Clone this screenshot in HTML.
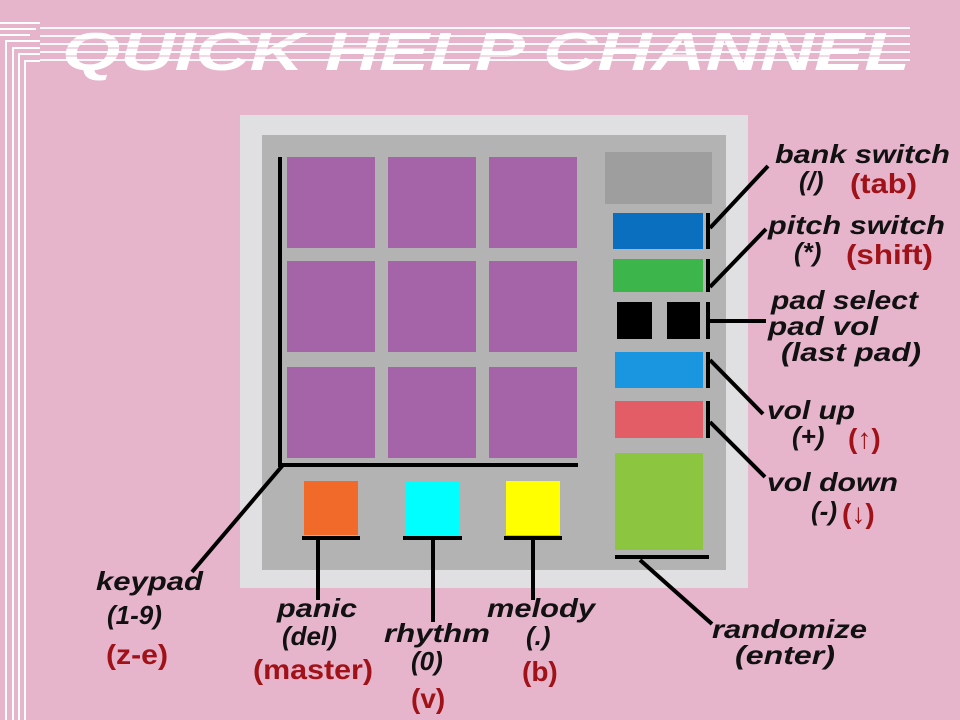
<!DOCTYPE html>
<html><head><meta charset="utf-8"><style>
html,body{margin:0;padding:0;background:#e6b4cb;}
svg{display:block}
.t{font-family:"Liberation Sans",sans-serif;font-weight:bold;font-style:italic;font-size:26px;fill:#111;}
.r{font-family:"Liberation Sans",sans-serif;font-weight:bold;font-size:28px;fill:#a01218;}
</style></head><body>
<svg width="960" height="720" viewBox="0 0 960 720" xmlns="http://www.w3.org/2000/svg">
<rect width="960" height="720" fill="#e6b4cb"/>
<g stroke="#fff" stroke-width="2" fill="none">
<path d="M0 23 H40 M0 29 H36 M0 35 H30"/>
<path d="M6 720 V41 H40 M13 720 V48 H40 M19 720 V54 H40 M25 720 V61 H40"/>
</g>
<g stroke="#fff" stroke-width="2" opacity="0.9">
<path d="M40 28 H910 M40 36 H910 M40 44 H910 M40 52 H910 M40 60 H910"/>
</g>
<text x="62" y="70" font-family="Liberation Sans,sans-serif" font-weight="bold" font-style="italic" font-size="54" fill="#fff" textLength="848" lengthAdjust="spacingAndGlyphs">QUICK HELP CHANNEL</text>
<g stroke="#e6b4cb" stroke-width="2" opacity="0.5">
<path d="M60 32 H910 M60 40 H910 M60 48 H910 M60 56 H910"/>
</g>
<rect x="240" y="115" width="508" height="473" fill="#e0e0e2"/>
<rect x="262" y="135" width="464" height="435" fill="#b3b3b3"/>
<g fill="#a564a8">
<rect x="287" y="157" width="88" height="91"/><rect x="388" y="157" width="88" height="91"/><rect x="489" y="157" width="88" height="91"/>
<rect x="287" y="261" width="88" height="91"/><rect x="388" y="261" width="88" height="91"/><rect x="489" y="261" width="88" height="91"/>
<rect x="287" y="367" width="88" height="91"/><rect x="388" y="367" width="88" height="91"/><rect x="489" y="367" width="88" height="91"/>
</g>
<rect x="304" y="481" width="54" height="54" fill="#f26a2a"/>
<rect x="405" y="481" width="55" height="54" fill="#00ffff"/>
<rect x="506" y="481" width="54" height="54" fill="#ffff00"/>
<rect x="605" y="152" width="107" height="52" fill="#9e9e9e"/>
<rect x="613" y="213" width="90" height="36" fill="#0a6fbf"/>
<rect x="613" y="259" width="90" height="33" fill="#3cb54a"/>
<rect x="617" y="302" width="35" height="37" fill="#000"/>
<rect x="667" y="302" width="33" height="37" fill="#000"/>
<rect x="615" y="352" width="88" height="36" fill="#1a96e0"/>
<rect x="615" y="401" width="88" height="37" fill="#e35d66"/>
<rect x="615" y="453" width="88" height="97" fill="#8cc540"/>
<g stroke="#000" stroke-width="4" fill="none">
<path d="M280 157 V465 H578"/>
<path d="M302 538 H360 M318 538 V600"/>
<path d="M403 538 H462 M433 538 V622"/>
<path d="M504 538 H562 M533 538 V600"/>
<path d="M615 557 H709"/>
<path d="M708 213 V249 M708 259 V292 M708 302 V339 M708 352 V388 M708 401 V438"/>
<path d="M710 228 L768 166"/>
<path d="M710 287 L766 229"/>
<path d="M710 321 L766 321"/>
<path d="M710 360 L763 414"/>
<path d="M710 422 L765 477"/>
<path d="M640 560 L712 624"/>
<path d="M283 465 L192 572"/>
</g>
<text class="t" x="775" y="163" textLength="175" lengthAdjust="spacingAndGlyphs">bank switch</text>
<text class="t" x="799" y="190">(/)</text><text class="r" x="850" y="193" textLength="67" lengthAdjust="spacingAndGlyphs">(tab)</text>
<text class="t" x="768" y="234" textLength="177" lengthAdjust="spacingAndGlyphs">pitch switch</text>
<text class="t" x="794" y="261">(*)</text><text class="r" x="846" y="264" textLength="87" lengthAdjust="spacingAndGlyphs">(shift)</text>
<text class="t" x="771" y="309" textLength="147" lengthAdjust="spacingAndGlyphs">pad select</text>
<text class="t" x="768" y="335" textLength="110" lengthAdjust="spacingAndGlyphs">pad vol</text>
<text class="t" x="781" y="361" textLength="140" lengthAdjust="spacingAndGlyphs">(last pad)</text>
<text class="t" x="767" y="419" textLength="88" lengthAdjust="spacingAndGlyphs">vol up</text>
<text class="t" x="792" y="445">(+)</text><text class="r" x="848" y="448">(↑)</text>
<text class="t" x="767" y="491" textLength="131" lengthAdjust="spacingAndGlyphs">vol down</text>
<text class="t" x="811" y="520">(-)</text><text class="r" x="842" y="523">(↓)</text>
<text class="t" x="712" y="638" textLength="155" lengthAdjust="spacingAndGlyphs">randomize</text>
<text class="t" x="735" y="664" textLength="100" lengthAdjust="spacingAndGlyphs">(enter)</text>
<text class="t" x="96" y="590" textLength="107" lengthAdjust="spacingAndGlyphs">keypad</text>
<text class="t" x="107" y="624">(1-9)</text>
<text class="r" x="106" y="664" textLength="62" lengthAdjust="spacingAndGlyphs">(z-e)</text>
<text class="t" x="277" y="617" textLength="80" lengthAdjust="spacingAndGlyphs">panic</text>
<text class="t" x="282" y="645">(del)</text>
<text class="r" x="253" y="679" textLength="120" lengthAdjust="spacingAndGlyphs">(master)</text>
<text class="t" x="384" y="642" textLength="106" lengthAdjust="spacingAndGlyphs">rhythm</text>
<text class="t" x="411" y="670">(0)</text>
<text class="r" x="411" y="708">(v)</text>
<text class="t" x="487" y="617" textLength="108" lengthAdjust="spacingAndGlyphs">melody</text>
<text class="t" x="526" y="645">(.)</text>
<text class="r" x="522" y="681">(b)</text>
</svg>
</body></html>
